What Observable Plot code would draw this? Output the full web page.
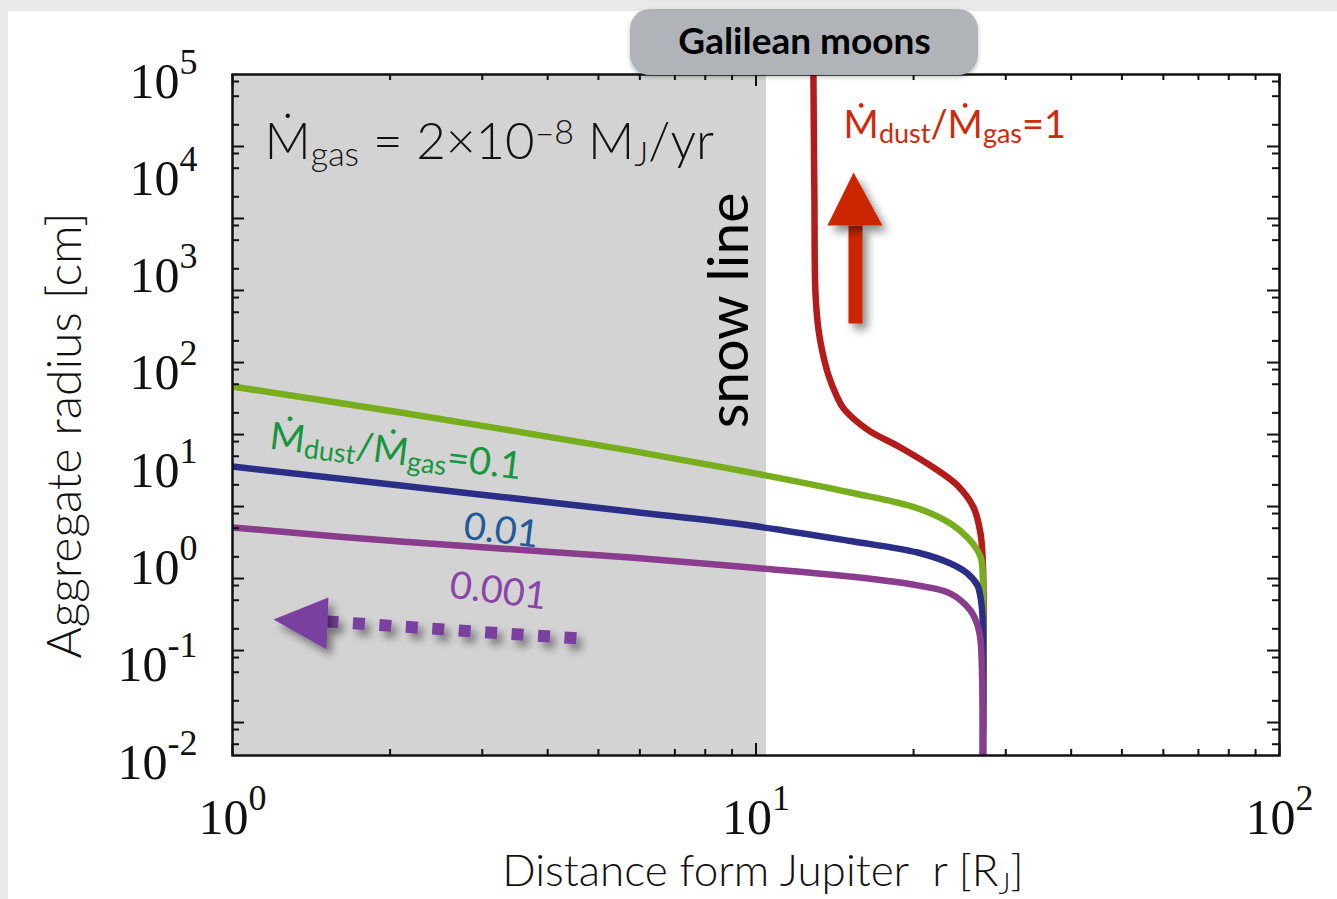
<!DOCTYPE html>
<html>
<head>
<meta charset="utf-8">
<script src="https://cdn.jsdelivr.net/npm/d3@7"></script>
<script src="https://cdn.jsdelivr.net/npm/@observablehq/plot@0.6"></script>
<style>
  html, body { margin: 0; padding: 0; }
  body { width: 1337px; height: 899px; background: #e9e9e9; overflow: hidden; position: relative; }
  #chart { position: absolute; left: 8px; top: 11px; width: 1329px; height: 888px; background: #fff; }
</style>
</head>
<body>
<div id="chart"></div>
<script>
// ---------- data ----------
// distance r [R_J] and aggregate radius a [cm] for each Mdust/Mgas ratio
const rRed    = [12.86, 12.93, 12.99, 13.17, 13.40, 13.76, 14.25, 14.70, 16.33, 18.88, 21.83, 24.26, 26.04, 26.85, 27.14, 27.14];
const aRed    = [2.0e5, 5065, 560.7, 233.6, 138.8, 80.5, 50.1, 36.9, 22.4, 14.65, 9.12, 5.96, 3.54, 1.91, 0.856, 0.008];
const rGreen  = [1.0, 2.094, 5.757, 9.761, 15.16, 20.35, 23.53, 25.35, 26.50, 26.97, 27.14, 27.14];
const aGreen  = [62.1, 33.5, 13.6, 8.11, 5.05, 3.48, 2.42, 1.74, 1.28, 1.01, 0.392, 0.008];
const rBlue   = [1.0, 2.094, 5.757, 9.761, 15.16, 20.35, 23.53, 25.35, 26.50, 26.85, 27.08, 27.14, 27.14];
const aBlue   = [9.34, 5.96, 3.22, 2.31, 1.60, 1.22, 0.940, 0.742, 0.559, 0.421, 0.275, 0.152, 0.008];
const rPurple = [1.0, 2.094, 5.757, 9.761, 15.16, 20.35, 23.53, 25.69, 26.50, 26.85, 27.05, 27.10];
const aPurple = [2.21, 1.58, 1.084, 0.856, 0.690, 0.560, 0.462, 0.309, 0.217, 0.152, 0.055, 0.008];

const snowLine = 10.47;               // edge of the shaded region [R_J]

// axis ticks
const xMajorTicks = [1, 10, 100];
const xMinorTicks = [2, 3, 4, 5, 6, 7, 8, 9, 20, 30, 40, 50, 60, 70, 80, 90];
const xTickExponents = [0, 1, 2];
const yTickExponents = [-2, -1, 0, 1, 2, 3, 4, 5];
// inward tick marks on the y frame (log10 of value), as drawn in the figure
const yMajorTickLog = [-1.661, -0.921, -0.181, 0.559, 1.299, 2.039, 2.780, 3.520, 4.260];
const yMinorTickLog = [-1.884, -1.733, -1.438, -1.144, -0.993, -0.698, -0.404, -0.253,
  0.042, 0.336, 0.487, 0.782, 1.076, 1.227, 1.522, 1.816, 1.967, 2.262, 2.556, 2.707,
  3.003, 3.297, 3.448, 3.743, 4.037, 4.188, 4.483, 4.777, 4.928];

// annotations (positions in data units)
const noteGas    = [{r: 1.151, a: 13685, text: "Ṁ_{gas} = 2×10^{–8} M_{J}/yr"}];
const noteRed    = [{r: 14.70, a: 22500, text: "Ṁ_{dust}/Ṁ_{gas}=1"}];
const noteGreen  = [{r: 1.172, a: 14.3,  text: "Ṁ_{dust}/Ṁ_{gas}=0.1"}];
const noteBlue   = [{r: 2.750, a: 1.70,  text: "0.01"}];
const notePurple = [{r: 2.586, a: 0.421, text: "0.001"}];
const noteSnow   = [{r: 9.675, a: 375,   text: "snow line"}];
const yTitle     = [{a: 19.45, text: "Aggregate radius [cm]"}];
const xTitle     = [{r: 10.31, text: "Distance form Jupiter\u00a0 r [R_{J}]"}];
const galileanBox  = [{r1: 5.757, r2: 26.61, a1: 97590, a2: 465400}];
const galileanText = [{r: 12.38, a: 213100, text: "Galilean moons"}];
const redArrowShaft = [{r: 15.49, a: 275.6}, {r: 15.49, a: 2802}];
const redArrowHead  = [{r: 15.36, a: 9826}, {r: 13.69, a: 2802}, {r: 17.44, a: 2802}];
const purpleArrowHead  = [{r: 1.198, a: 0.250}, {r: 1.525, a: 0.421}, {r: 1.512, a: 0.1229}];
const purpleArrowShaft = [{r: 1.512, a: 0.2384}, {r: 4.601, a: 0.1594}];

// ---------- build ----------
const zip = (rs, as) => rs.map((r, i) => ({r, a: as[i]}));
const red = zip(rRed, aRed), green = zip(rGreen, aGreen), blue = zip(rBlue, aBlue), purple = zip(rPurple, aPurple);

const C = {red: "#b41b1b", green: "#78ae1e", blue: "#2b2e86", purple: "#8a3c8d",
  redText: "#cf2a0d", greenText: "#16963f", blueText: "#1d5b9b", purpleText: "#8a45a8",
  redArrow: "#cc2600", purpleArrow: "#7a3fa0", shade: "#d3d3d3", ink: "#111"};
const sans = "Lato, 'Open Sans', sans-serif";
const serif = "'Liberation Serif', 'Times New Roman', serif";
const FW = 1047, FH = 681;

const lineOpts = (color) => ({x: "r", y: "a", stroke: color, strokeWidth: 6.5, curve: "catmull-rom", clip: true, strokeLinejoin: "round"});

const svg = Plot.plot({
  width: 1329, height: 888,
  marginLeft: 224, marginRight: 58, marginTop: 63, marginBottom: 144,
  x: {type: "log", domain: [1, 100], axis: null},
  y: {type: "log", domain: [1e-2, 1e5], axis: null},
  style: {background: "white", overflow: "visible"},
  marks: [
    Plot.rect([{x1: 1, x2: snowLine}], {x1: "x1", x2: "x2", fill: C.shade}),
    Plot.line(red, lineOpts(C.red)),
    Plot.line(green, lineOpts(C.green)),
    Plot.line(blue, lineOpts(C.blue)),
    Plot.line(purple, lineOpts(C.purple)),
    // arrows
    Plot.line(redArrowShaft, {x: "r", y: "a", stroke: C.redArrow, strokeWidth: 14, strokeLinecap: "butt", ariaDescription: "shadow"}),
    Plot.line(redArrowHead, {x: "r", y: "a", fill: C.redArrow, stroke: "none", ariaDescription: "shadow"}),
    Plot.line(purpleArrowShaft, {x: "r", y: "a", stroke: C.purpleArrow, strokeWidth: 12, strokeLinecap: "butt", strokeDasharray: "12,14.5", ariaDescription: "shadow"}),
    Plot.line(purpleArrowHead, {x: "r", y: "a", fill: C.purpleArrow, stroke: "none", ariaDescription: "shadow"}),
    // annotations
    Plot.text(noteGas, {x: "r", y: "a", text: "text", textAnchor: "start", lineAnchor: "bottom", fontSize: 51, fontFamily: sans, fontWeight: 300, fill: C.ink, ariaDescription: "rich-gas"}),
    Plot.text(noteRed, {x: "r", y: "a", text: "text", textAnchor: "start", lineAnchor: "bottom", fontSize: 38, fontFamily: sans, fill: C.redText, ariaDescription: "rich-note"}),
    Plot.text(noteGreen, {x: "r", y: "a", text: "text", textAnchor: "start", lineAnchor: "bottom", rotate: 7, fontSize: 38, fontFamily: sans, fill: C.greenText, ariaDescription: "rich-note"}),
    Plot.text(noteBlue, {x: "r", y: "a", text: "text", textAnchor: "start", lineAnchor: "bottom", rotate: 7, fontSize: 38, fontFamily: sans, fill: C.blueText}),
    Plot.text(notePurple, {x: "r", y: "a", text: "text", textAnchor: "start", lineAnchor: "bottom", rotate: 7, fontSize: 38, fontFamily: sans, fill: C.purpleText}),
    Plot.text(noteSnow, {x: "r", y: "a", text: "text", textAnchor: "middle", lineAnchor: "bottom", rotate: -90, fontSize: 57, fontFamily: sans, fill: "#000"}),
    // frame and inward ticks
    Plot.frame({stroke: C.ink, strokeWidth: 2.5}),
    Plot.ruleX(xMajorTicks, {x: d => d, insetTop: FH - 12, stroke: C.ink, strokeWidth: 2}),
    Plot.ruleX(xMajorTicks, {x: d => d, insetBottom: FH - 12, stroke: C.ink, strokeWidth: 2}),
    Plot.ruleX(xMinorTicks, {x: d => d, insetTop: FH - 6, stroke: C.ink, strokeWidth: 2}),
    Plot.ruleX(xMinorTicks, {x: d => d, insetBottom: FH - 6, stroke: C.ink, strokeWidth: 2}),
    Plot.ruleY(yMajorTickLog, {y: d => 10 ** d, insetRight: FW - 12, stroke: C.ink, strokeWidth: 2}),
    Plot.ruleY(yMajorTickLog, {y: d => 10 ** d, insetLeft: FW - 12, stroke: C.ink, strokeWidth: 2}),
    Plot.ruleY(yMinorTickLog, {y: d => 10 ** d, insetRight: FW - 7, stroke: C.ink, strokeWidth: 2}),
    Plot.ruleY(yMinorTickLog, {y: d => 10 ** d, insetLeft: FW - 7, stroke: C.ink, strokeWidth: 2}),
    // tick labels
    Plot.text(xTickExponents, {x: d => 10 ** d, text: d => `10^{${d}}`, frameAnchor: "bottom", dy: 78, lineAnchor: "bottom", textAnchor: "middle", fontSize: 50, fontFamily: serif, fill: C.ink, ariaDescription: "rich-tick"}),
    Plot.text(yTickExponents, {y: d => 10 ** d, text: d => `10^{${d}}`, frameAnchor: "left", dx: -35, dy: 23, lineAnchor: "bottom", textAnchor: "end", fontSize: 50, fontFamily: serif, fill: C.ink, ariaDescription: "rich-tick"}),
    // axis titles
    Plot.text(xTitle, {x: "r", text: "text", frameAnchor: "bottom", dy: 130, lineAnchor: "bottom", textAnchor: "middle", fontSize: 44, fontFamily: sans, fontWeight: 300, fill: C.ink, ariaDescription: "rich-xlabel"}),
    Plot.text(yTitle, {y: "a", text: "text", frameAnchor: "left", dx: -167, rotate: -90, textAnchor: "middle", lineAnchor: "middle", fontSize: 48, fontFamily: sans, fontWeight: 300, fill: C.ink}),
    // Galilean moons badge
    Plot.rect(galileanBox, {x1: "r1", x2: "r2", y1: "a1", y2: "a2", fill: "#b0b4b9", rx: 20, ariaDescription: "badge"}),
    Plot.text(galileanText, {x: "r", y: "a", text: "text", fontSize: 37, fontWeight: "bold", fontFamily: sans, fill: "#000"})
  ]
});

// ---------- rich text (sub/superscripts) ----------
const richSpec = {
  "rich-gas":    {small: 34, sub: 7, sup: 15},
  "rich-note":   {small: 27, sub: 5, sup: 12},
  "rich-tick":   {small: 36, sub: 6, sup: 24},
  "rich-xlabel": {small: 29, sub: 8, sup: 12}
};
for (const [label, spec] of Object.entries(richSpec)) {
  d3.select(svg).selectAll(`g[aria-description="${label}"] text`).each(function() {
    const el = d3.select(this);
    const s = el.text();
    el.text(null);
    const parts = s.split(/(_\{[^}]*\}|\^\{[^}]*\})/).filter(p => p !== "");
    let shift = 0;
    for (const p of parts) {
      let t = p, kind = null;
      if (p.startsWith("_{")) { t = p.slice(2, -1); kind = "sub"; }
      else if (p.startsWith("^{")) { t = p.slice(2, -1); kind = "sup"; }
      const target = kind === "sub" ? spec.sub : kind === "sup" ? -spec.sup : 0;
      const ts = el.append("tspan").text(t);
      if (target !== shift) { ts.attr("dy", target - shift); shift = target; }
      if (kind) ts.attr("font-size", spec.small);
    }
  });
}

// ---------- drop shadows (user-space region so thin shapes keep their shadow) ----------
const defs = d3.select(svg).insert("defs", ":first-child");
const f = defs.append("filter").attr("id", "dshadow").attr("filterUnits", "userSpaceOnUse")
  .attr("x", -100).attr("y", -100).attr("width", 1600).attr("height", 1100);
f.append("feDropShadow").attr("dx", 5).attr("dy", 6).attr("stdDeviation", 4).attr("flood-color", "#000").attr("flood-opacity", 0.45);
const f2 = defs.append("filter").attr("id", "bshadow").attr("filterUnits", "userSpaceOnUse")
  .attr("x", -100).attr("y", -100).attr("width", 1600).attr("height", 1100);
f2.append("feDropShadow").attr("dx", 0).attr("dy", 2).attr("stdDeviation", 2).attr("flood-color", "#000").attr("flood-opacity", 0.25);
d3.select(svg).selectAll('g[aria-description="shadow"]').attr("filter", "url(#dshadow)");
d3.select(svg).selectAll('g[aria-description="badge"]').attr("filter", "url(#bshadow)");

document.getElementById("chart").appendChild(svg);
</script>
</body>
</html>
